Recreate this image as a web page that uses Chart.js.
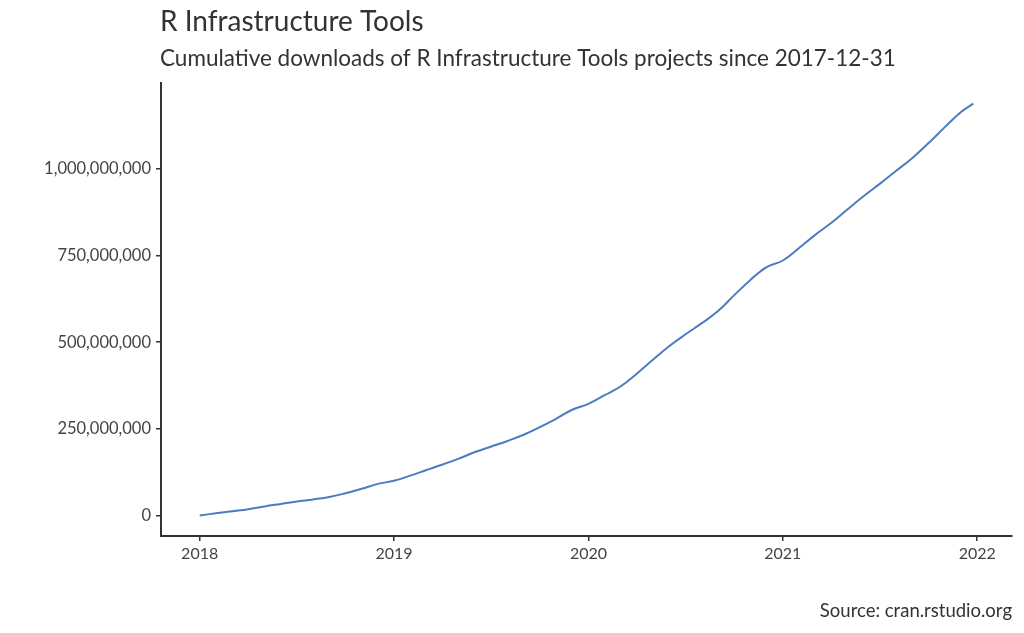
<!DOCTYPE html>
<html>
<head>
<meta charset="utf-8">
<script src="https://cdn.jsdelivr.net/npm/chart.js@4.4.1/dist/chart.umd.min.js"></script>
<style>
  html, body { margin: 0; padding: 0; background: #fff; }
  #wrap { width: 1024px; height: 633px; position: relative; }
</style>
</head>
<body>
<div id="wrap"><canvas id="myChart" width="1024" height="633"></canvas></div>
<script>
// monthly cumulative downloads, in millions, starting 2018-01
const startYear = 2018;
const downloads = [
  0, 6, 12, 18, 26, 33, 40, 46, 53, 64, 77, 91,
  100, 115, 131, 147, 164, 183, 199, 215, 233, 255, 279, 305,
  322, 347, 373, 410, 450, 489, 523, 555, 590, 636, 680, 717,
  736, 772, 810, 845, 884, 922, 958, 995, 1032, 1075, 1121, 1165,
  1189
];
const xTicks = [2018, 2019, 2020, 2021, 2022];
const yTicks = [0, 250000000, 500000000, 750000000, 1000000000];

const titleText = "R Infrastructure Tools";
const subtitleText = "Cumulative downloads of R Infrastructure Tools projects since 2017-12-31";
const captionText = "Source: cran.rstudio.org";

const FONT = "Lato, 'Open Sans', sans-serif";

// month index -> decimal year (last point sits at 2021-12-31)
var points = downloads.map(function (v, i) {
  var x = startYear + i / 12;
  if (i == downloads.length - 1) x = startYear + 3.98;
  return { x: x, y: v * 1e6 };
});

var xSpan = points[points.length - 1].x - startYear;
var yMaxData = 1189e6;

// titles and caption drawn relative to the plot area
const textPlugin = {
  id: "texts",
  afterDraw(chart) {
    const ctx = chart.ctx;
    const a = chart.chartArea;
    ctx.save();
    ctx.fillStyle = "#333";
    ctx.textBaseline = "alphabetic";
    ctx.textAlign = "left";
    ctx.font = "28px " + FONT;
    ctx.fillText(titleText, a.left - 1, 31);
    ctx.font = "22.5px " + FONT;
    ctx.fillText(subtitleText, a.left - 1, 66);
    ctx.textAlign = "right";
    ctx.font = "18.5px " + FONT;
    ctx.fillText(captionText, a.right, 617);
    ctx.restore();
  },
};

var ctx = document.getElementById("myChart");
var myChart = new Chart(ctx, {
  type: "line",
  data: {
    datasets: [
      {
        data: points,
        borderColor: "#4a7cc1",
        borderWidth: 2,
        pointRadius: 0,
        fill: false,
        tension: 0.4,
      },
    ],
  },
  options: {
    responsive: false,
    animation: false,
    layout: { padding: { top: 83, right: 12, bottom: 36, left: 0 } },
    plugins: {
      legend: { display: false },
      tooltip: { enabled: false },
    },
    scales: {
      x: {
        type: "linear",
        min: startYear - 0.05 * xSpan,
        max: startYear + xSpan * 1.05,
        afterBuildTicks: (s) => { s.ticks = xTicks.map((v) => ({ value: v })); },
        afterFit: (s) => { s.height = 61; },
        border: { color: "#333", width: 2 },
        grid: { drawOnChartArea: false, drawTicks: true, tickLength: 5, color: "#333", lineWidth: 1.5 },
        ticks: {
          color: "#444",
          font: { family: FONT, size: 16 },
          padding: 3,
          maxRotation: 0,
          callback: (v) => String(v),
        },
      },
      y: {
        type: "linear",
        min: -0.05 * yMaxData,
        max: yMaxData * 1.05,
        afterBuildTicks: (s) => { s.ticks = yTicks.map((v) => ({ value: v })); },
        afterFit: (s) => { s.width = 161; },
        border: { color: "#333", width: 2 },
        grid: { drawOnChartArea: false, drawTicks: true, tickLength: 5, color: "#333", lineWidth: 1.5 },
        ticks: {
          color: "#444",
          font: { family: FONT, size: 16.5 },
          padding: 5,
          callback: (v) => v.toLocaleString("en-US"),
        },
      },
    },
  },
  plugins: [textPlugin],
});
</script>
</body>
</html>
